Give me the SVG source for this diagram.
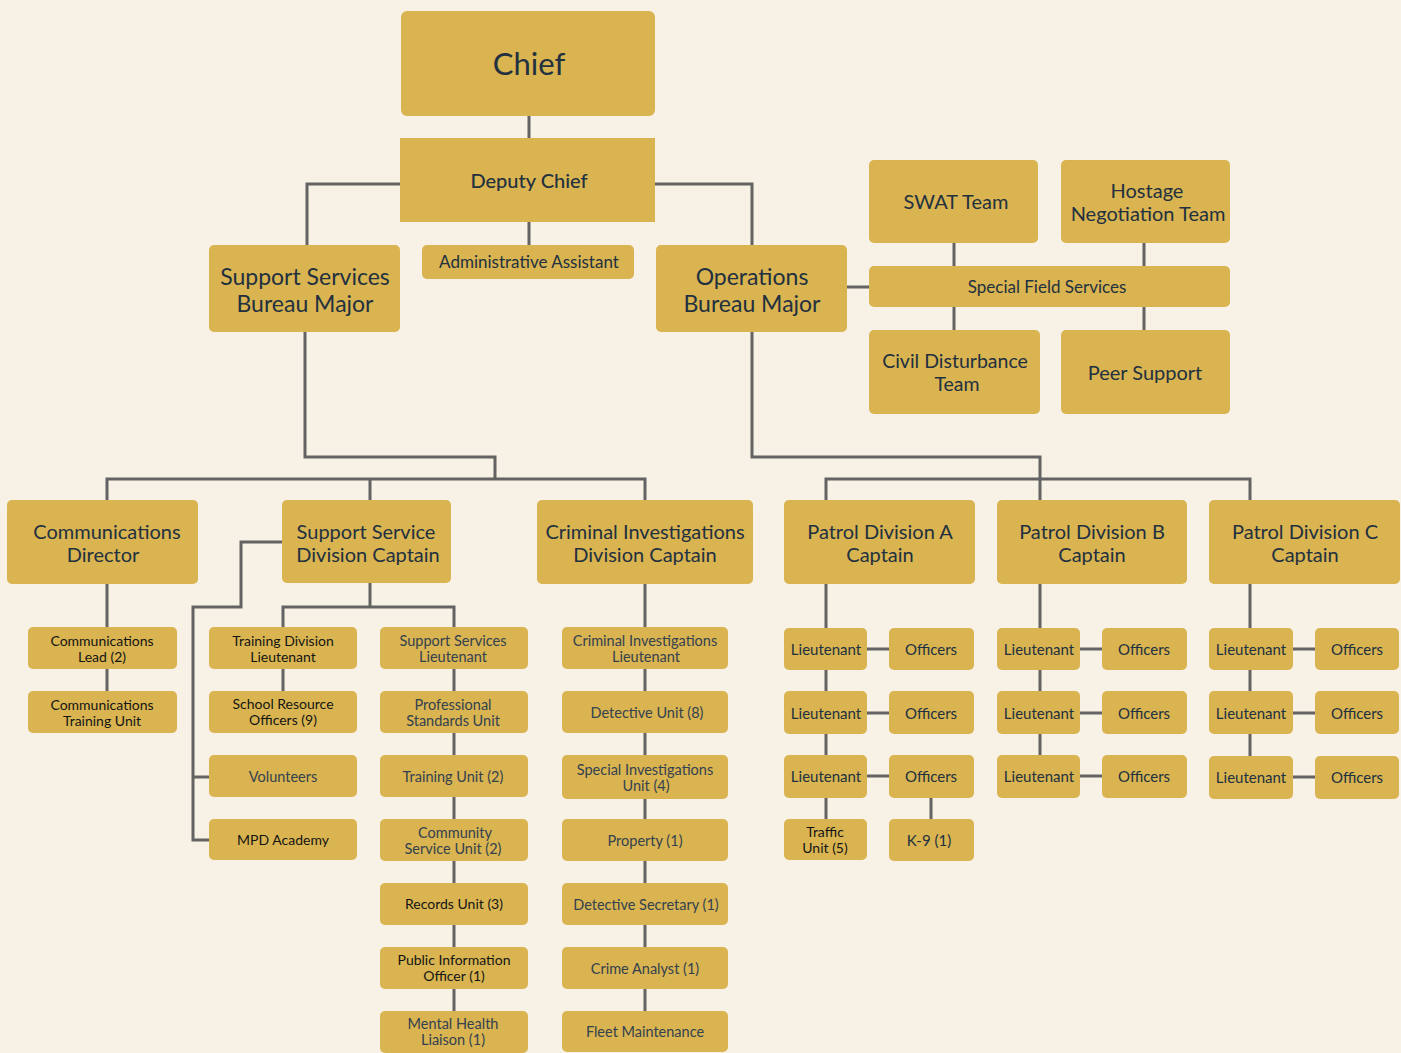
<svg xmlns="http://www.w3.org/2000/svg" width="1401" height="1053" viewBox="0 0 1401 1053">
<style>
.bg{fill:#F8F2E6}
.box{fill:#D9B451}
.ln{fill:none;stroke:#636363;stroke-width:3}
text{font-family:Lato,"Open Sans","Liberation Sans",sans-serif;fill:#22303f;text-anchor:middle}
.t30{font-size:31px}
.t23{font-size:23px}
.t20{font-size:20px}
.t19{font-size:19.5px}
.t195{font-size:20px}
.t17{font-size:17px}
.t15{font-size:15px}
.t14{font-size:14px}
.t145{font-size:14.5px}
.blk{fill:#141414}
.gr{fill:#34414f}
</style>
<rect class="bg" x="0" y="0" width="1401" height="1053"/>
<g id="connectors">
<path class="ln" d="M529 116V138"/>
<path class="ln" d="M400 184H307V245"/>
<path class="ln" d="M655 184H752V245"/>
<path class="ln" d="M529 222V245"/>
<path class="ln" d="M847 287H869"/>
<path class="ln" d="M954 243V266M1144 243V266M954 307V330M1144 307V330"/>
<path class="ln" d="M305 332V457H495V479"/>
<path class="ln" d="M107 500V479H645V500M370 479V500"/>
<path class="ln" d="M752 332V457H1040V479"/>
<path class="ln" d="M826 500V479H1250V500M1040 479V500"/>
<path class="ln" d="M107 584V691"/>
<path class="ln" d="M370 583V607M283 627V607H454V627"/>
<path class="ln" d="M283 669V691"/>
<path class="ln" d="M282 542H241V607H193V840H209M193 777H209"/>
<path class="ln" d="M454 669V1011"/>
<path class="ln" d="M645 584V1011"/>
<path class="ln" d="M826 584V819M867 649H889M867 713H889M867 776H889M931 798V819"/>
<path class="ln" d="M1040 584V776M1080 649H1102M1080 713H1102M1080 776H1102"/>
<path class="ln" d="M1250 584V777M1293 649H1315M1293 713H1315M1293 777H1315"/>
</g>
<g id="chief"><rect class="box" x="401" y="11" width="254" height="105" rx="6"/><text class="t30" x="529" y="75">Chief</text></g>
<g id="deputy-chief"><rect class="box" x="400" y="138" width="255" height="84"/><text class="t20" x="529" y="188" font-weight="500">Deputy Chief</text></g>
<g id="admin-assistant"><rect class="box" x="422" y="245" width="212" height="34" rx="5"/><text class="t17" x="529" y="268">Administrative Assistant</text></g>
<g id="support-services-bureau"><rect class="box" x="209" y="245" width="191" height="87" rx="5"/><text class="t23" x="305" y="285">Support Services</text><text class="t23" x="305" y="312">Bureau Major</text></g>
<g id="operations-bureau"><rect class="box" x="656" y="245" width="191" height="87" rx="5"/><text class="t23" x="752" y="285">Operations</text><text class="t23" x="752" y="312">Bureau Major</text></g>
<g id="swat"><rect class="box" x="869" y="160" width="169" height="83" rx="5"/><text class="t195" x="956" y="209">SWAT Team</text></g>
<g id="hostage"><rect class="box" x="1061" y="160" width="169" height="83" rx="5"/><text class="t195" x="1147" y="198">Hostage</text><text class="t195" x="1148" y="221">Negotiation Team</text></g>
<g id="special-field-services"><rect class="box" x="869" y="266" width="361" height="41" rx="5"/><text class="t17" x="1047" y="293">Special Field Services</text></g>
<g id="civil-disturbance"><rect class="box" x="869" y="330" width="171" height="84" rx="5"/><text class="t19" x="955" y="368">Civil Disturbance</text><text class="t19" x="957" y="391">Team</text></g>
<g id="peer-support"><rect class="box" x="1061" y="330" width="169" height="84" rx="5"/><text class="t195" x="1145" y="380">Peer Support</text></g>

<g id="communications-director"><rect class="box" x="7" y="500" width="191" height="84" rx="5"/><text class="t20" x="107" y="539">Communications</text><text class="t20" x="103" y="562">Director</text></g>
<g id="support-service-captain"><rect class="box" x="282" y="500" width="169" height="83" rx="5"/><text class="t20" x="366" y="539">Support Service</text><text class="t20" x="368" y="562">Division Captain</text></g>
<g id="criminal-investigations-captain"><rect class="box" x="537" y="500" width="216" height="84" rx="5"/><text class="t20" x="645" y="539">Criminal Investigations</text><text class="t20" x="645" y="562">Division Captain</text></g>
<g id="patrol-a-captain"><rect class="box" x="784" y="500" width="191" height="84" rx="5"/><text class="t20" x="880" y="539">Patrol Division A</text><text class="t20" x="880" y="562">Captain</text></g>
<g id="patrol-b-captain"><rect class="box" x="997" y="500" width="190" height="84" rx="5"/><text class="t20" x="1092" y="539">Patrol Division B</text><text class="t20" x="1092" y="562">Captain</text></g>
<g id="patrol-c-captain"><rect class="box" x="1209" y="500" width="191" height="84" rx="5"/><text class="t20" x="1305" y="539">Patrol Division C</text><text class="t20" x="1305" y="562">Captain</text></g>

<g id="communications-lead"><rect class="box" x="28" y="627" width="149" height="42" rx="5"/><text class="t14 blk" x="102" y="646">Communications</text><text class="t14 blk" x="102" y="662">Lead (2)</text></g>
<g id="communications-training"><rect class="box" x="28" y="691" width="149" height="42" rx="5"/><text class="t14 blk" x="102" y="710">Communications</text><text class="t14 blk" x="102" y="726">Training Unit</text></g>

<g id="training-division-lt"><rect class="box" x="209" y="627" width="148" height="42" rx="5"/><text class="t14 blk" x="283" y="646">Training Division</text><text class="t14 blk" x="283" y="662">Lieutenant</text></g>
<g id="school-resource"><rect class="box" x="209" y="691" width="148" height="42" rx="5"/><text class="t14 blk" x="283" y="709">School Resource</text><text class="t14 blk" x="283" y="725">Officers (9)</text></g>
<g id="volunteers"><rect class="box" x="209" y="755" width="148" height="42" rx="5"/><text class="t145 gr" x="283" y="782">Volunteers</text></g>
<g id="mpd-academy"><rect class="box" x="209" y="819" width="148" height="41" rx="5"/><text class="t14 blk" x="283" y="845">MPD Academy</text></g>

<g id="support-services-lt"><rect class="box" x="380" y="627" width="148" height="42" rx="5"/><text class="t145 gr" x="453" y="646">Support Services</text><text class="t145 gr" x="453" y="662">Lieutenant</text></g>
<g id="professional-standards"><rect class="box" x="380" y="691" width="148" height="42" rx="5"/><text class="t145 gr" x="453" y="710">Professional</text><text class="t145 gr" x="453" y="726">Standards Unit</text></g>
<g id="training-unit"><rect class="box" x="380" y="755" width="148" height="42" rx="5"/><text class="t145 gr" x="453" y="782">Training Unit (2)</text></g>
<g id="community-service"><rect class="box" x="380" y="819" width="148" height="42" rx="5"/><text class="t145 gr" x="455" y="838">Community</text><text class="t145 gr" x="453" y="854">Service Unit (2)</text></g>
<g id="records-unit"><rect class="box" x="380" y="883" width="148" height="42" rx="5"/><text class="t14 blk" x="454" y="909">Records Unit (3)</text></g>
<g id="public-information"><rect class="box" x="380" y="947" width="148" height="42" rx="5"/><text class="t14 blk" x="454" y="965">Public Information</text><text class="t14 blk" x="454" y="981">Officer (1)</text></g>
<g id="mental-health"><rect class="box" x="380" y="1011" width="148" height="42" rx="5"/><text class="t145 gr" x="453" y="1029">Mental Health</text><text class="t145 gr" x="453" y="1045">Liaison (1)</text></g>

<g id="criminal-investigations-lt"><rect class="box" x="562" y="627" width="166" height="42" rx="5"/><text class="t145 gr" x="645" y="646">Criminal Investigations</text><text class="t145 gr" x="646" y="662">Lieutenant</text></g>
<g id="detective-unit"><rect class="box" x="562" y="691" width="166" height="42" rx="5"/><text class="t145 gr" x="647" y="718">Detective Unit (8)</text></g>
<g id="special-investigations"><rect class="box" x="562" y="755" width="166" height="44" rx="5"/><text class="t145 gr" x="645" y="775">Special Investigations</text><text class="t145 gr" x="646" y="791">Unit (4)</text></g>
<g id="property"><rect class="box" x="562" y="819" width="166" height="42" rx="5"/><text class="t145 gr" x="645" y="846">Property (1)</text></g>
<g id="detective-secretary"><rect class="box" x="562" y="883" width="166" height="42" rx="5"/><text class="t145 gr" x="646" y="910">Detective Secretary (1)</text></g>
<g id="crime-analyst"><rect class="box" x="562" y="947" width="166" height="42" rx="5"/><text class="t145 gr" x="645" y="974">Crime Analyst (1)</text></g>
<g id="fleet-maintenance"><rect class="box" x="562" y="1011" width="166" height="41" rx="5"/><text class="t145 gr" x="645" y="1037">Fleet Maintenance</text></g>

<g id="pa-lt1"><rect class="box" x="784" y="628" width="83" height="42" rx="5"/><text class="t15" x="826" y="655">Lieutenant</text></g>
<g id="pa-off1"><rect class="box" x="889" y="628" width="85" height="42" rx="5"/><text class="t15" x="931" y="655">Officers</text></g>
<g id="pa-lt2"><rect class="box" x="784" y="691" width="83" height="43" rx="5"/><text class="t15" x="826" y="719">Lieutenant</text></g>
<g id="pa-off2"><rect class="box" x="889" y="691" width="85" height="43" rx="5"/><text class="t15" x="931" y="719">Officers</text></g>
<g id="pa-lt3"><rect class="box" x="784" y="755" width="83" height="43" rx="5"/><text class="t15" x="826" y="782">Lieutenant</text></g>
<g id="pa-off3"><rect class="box" x="889" y="755" width="85" height="43" rx="5"/><text class="t15" x="931" y="782">Officers</text></g>
<g id="traffic-unit"><rect class="box" x="784" y="819" width="83" height="41" rx="5"/><text class="t14 blk" x="825" y="837">Traffic</text><text class="t14 blk" x="825" y="853">Unit (5)</text></g>
<g id="k9"><rect class="box" x="889" y="819" width="85" height="42" rx="5"/><text class="t15" x="929" y="846">K-9 (1)</text></g>

<g id="pb-lt1"><rect class="box" x="997" y="628" width="83" height="42" rx="5"/><text class="t15" x="1039" y="655">Lieutenant</text></g>
<g id="pb-off1"><rect class="box" x="1102" y="628" width="85" height="42" rx="5"/><text class="t15" x="1144" y="655">Officers</text></g>
<g id="pb-lt2"><rect class="box" x="997" y="691" width="83" height="43" rx="5"/><text class="t15" x="1039" y="719">Lieutenant</text></g>
<g id="pb-off2"><rect class="box" x="1102" y="691" width="85" height="43" rx="5"/><text class="t15" x="1144" y="719">Officers</text></g>
<g id="pb-lt3"><rect class="box" x="997" y="755" width="83" height="43" rx="5"/><text class="t15" x="1039" y="782">Lieutenant</text></g>
<g id="pb-off3"><rect class="box" x="1102" y="755" width="85" height="43" rx="5"/><text class="t15" x="1144" y="782">Officers</text></g>

<g id="pc-lt1"><rect class="box" x="1209" y="628" width="84" height="42" rx="5"/><text class="t15" x="1251" y="655">Lieutenant</text></g>
<g id="pc-off1"><rect class="box" x="1315" y="628" width="84" height="42" rx="5"/><text class="t15" x="1357" y="655">Officers</text></g>
<g id="pc-lt2"><rect class="box" x="1209" y="691" width="84" height="43" rx="5"/><text class="t15" x="1251" y="719">Lieutenant</text></g>
<g id="pc-off2"><rect class="box" x="1315" y="691" width="84" height="43" rx="5"/><text class="t15" x="1357" y="719">Officers</text></g>
<g id="pc-lt3"><rect class="box" x="1209" y="756" width="84" height="43" rx="5"/><text class="t15" x="1251" y="783">Lieutenant</text></g>
<g id="pc-off3"><rect class="box" x="1315" y="756" width="84" height="43" rx="5"/><text class="t15" x="1357" y="783">Officers</text></g>
</svg>
